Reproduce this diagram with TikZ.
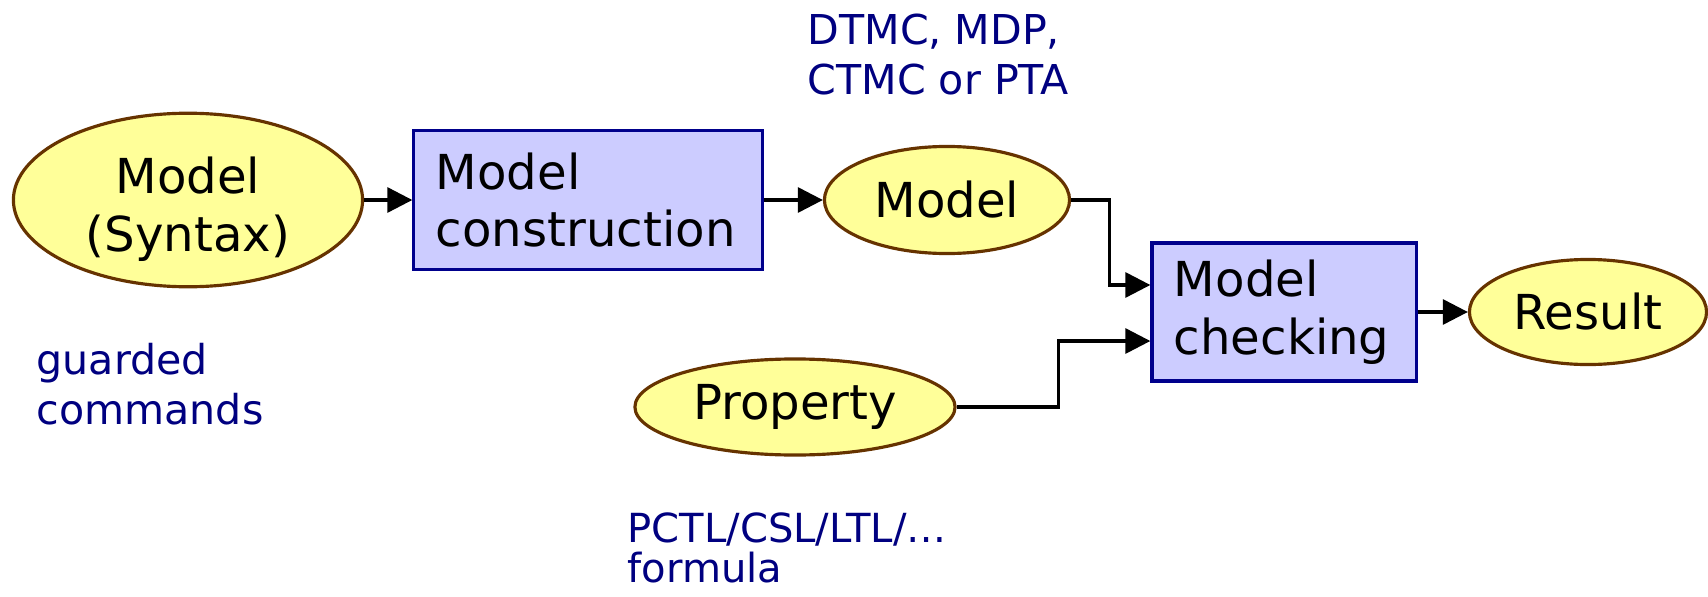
\documentclass[tikz,border=0pt]{standalone}
\usepackage{fontspec}
\setmainfont{DejaVu Sans}
\usepackage{tikz}
\usetikzlibrary{arrows.meta, shapes.geometric}

\definecolor{jaune}{RGB}{255,255,153}
\definecolor{brun}{RGB}{102,51,0}
\definecolor{mauve}{RGB}{204,204,255}
\definecolor{marine}{RGB}{0,0,140}
\definecolor{bleutexte}{RGB}{0,0,128}

\tikzset{
    donnee/.style={ellipse, draw=brun, fill=jaune, line width=0.9pt, inner sep=0pt,
        align=center, font=\fontsize{13.7}{16.4}\selectfont},
    outil/.style={rectangle, draw=marine, fill=mauve, line width=0.9pt, inner ysep=0pt,
        inner xsep=0.22cm, minimum height=1.39cm, align=left, font=\fontsize{13.7}{16.4}\selectfont},
    remarque/.style={anchor=north west, inner sep=0pt, align=left, text=bleutexte},
    fleche/.style={line width=0.9pt, -{Triangle[length=0.25cm,width=0.25cm]}}
}

\begin{document}
\begin{tikzpicture}[x=0.01cm, y=-0.01cm]
        \useasboundingbox (0,0) rectangle (1708,597);

        % Noeuds (donnees et outils)
        \node[donnee, minimum width=3.49cm, minimum height=1.67cm] (syntaxe) at (188,200) {\rule{0pt}{0.55cm}Model\\(Syntax)};
        \node[outil, text width=3.04cm] (construction) at (588,200) {Model\\construction};
        \node[donnee, minimum width=2.45cm, minimum height=1.07cm] (modele) at (947,200) {Model};
        \node[outil, text width=2.20cm, minimum height=1.38cm] (verif) at (1284,312) {Model\\checking};
        \node[donnee, minimum width=3.20cm, minimum height=0.96cm] (propriete) at (795,407) {Property};
        \node[donnee, minimum width=2.37cm, minimum height=1.05cm] (resultat) at (1588,312) {Result};

        % Commentaires
        \node[remarque, font=\fontsize{11.7}{14.2}\selectfont] (types) at (807,13) {DTMC, MDP,\\CTMC or PTA};
        \node[remarque, font=\fontsize{11.7}{14.2}\selectfont] (langage) at (36,343) {guarded\\commands};
        \node[remarque, font=\fontsize{11.4}{11.4}\selectfont] (logique) at (627,512) {PCTL/CSL/LTL/\dots\\formula};

        % Fleches
        \draw[fleche] (syntaxe.east) -- (construction.west);
        \draw[fleche] (construction.east) -- (modele.west);
        \draw[fleche] (modele.east) -- ++(0.38cm,0) |- ([yshift=0.27cm]verif.west);
        \draw[fleche] (propriete.east) -- ++(1.02cm,0) |- ([yshift=-0.29cm]verif.west);
        \draw[fleche] (verif.east) -- (resultat.west);
    \end{tikzpicture}
\end{document}
